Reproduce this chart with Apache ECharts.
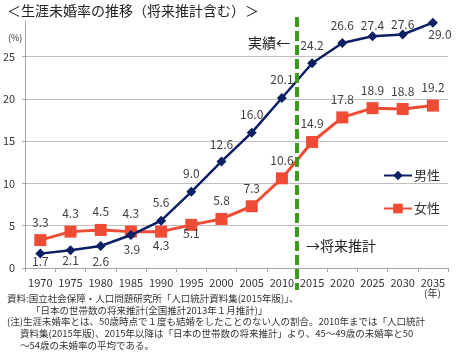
<!DOCTYPE html>
<html><head><meta charset="utf-8">
<script src="https://cdn.jsdelivr.net/npm/echarts@6/dist/echarts.min.js"></script>
<style>html,body{margin:0;padding:0;background:#fff}#c{width:457px;height:362px}</style>
</head><body><div id="c"></div>
<script>
const years = ['1970','1975','1980','1985','1990','1995','2000','2005','2010','2015','2020','2025','2030','2035'];
const male = [1.7, 2.1, 2.6, 3.9, 5.6, 9.0, 12.6, 16.0, 20.1, 24.2, 26.6, 27.4, 27.6, 29.0];
const female = [3.3, 4.3, 4.5, 4.3, 4.3, 5.1, 5.8, 7.3, 10.6, 14.9, 17.8, 18.9, 18.8, 19.2];
const yTicks = [0, 5, 10, 15, 20, 25];
// label offsets (style only)
const maleOff = [[0,8],[0,10],[0,15],[1,14],[0,-18],[0,-18],[0,-17],[0,-18],[0,-19],[0,-18],[0,-18],[0,-11],[0,-10],[7,12]];
const femOff = [[0,-18],[0,-18],[0,-18],[0,-18],[0,14],[0,9],[0,-19],[0,-18],[0,-18],[0,-19],[0,-18],[0,-18],[0,-18],[0,-18]];

const FONT = '"Noto Sans CJK JP", "Noto Sans", sans-serif';
const chart = echarts.init(document.getElementById('c'), null, {renderer:'canvas'});
function mk(vals, offs){
  return vals.map((v,i)=>({value:v, label:{offset:offs[i]}}));
}
const fmt = p => Number(p.value).toFixed(1);
chart.setOption({
  animation:false,
  textStyle:{fontFamily:FONT},
  grid:{left:25, right:9, top:21, bottom:94},
  legend:{
    orient:'vertical', left:378, top:164, itemWidth:28, itemHeight:12, itemGap:20,
    textStyle:{fontFamily:FONT, fontSize:13, color:'#333', padding:[0,0,0,-3]},
    data:['男性','女性']
  },
  xAxis:{
    type:'category', data:years, boundaryGap:true,
    axisLine:{lineStyle:{color:'#a6a6a6', width:1}},
    axisTick:{show:true, length:4, alignWithLabel:false, lineStyle:{color:'#a6a6a6'}},
    axisLabel:{fontFamily:FONT, fontSize:11, color:'#333', margin:9, interval:0}
  },
  yAxis:{
    type:'value', min:0, max:29.2, interval:5,
    axisLine:{show:true, lineStyle:{color:'#a6a6a6'}},
    axisTick:{show:true, length:3, lineStyle:{color:'#a6a6a6'}},
    axisLabel:{fontFamily:FONT, fontSize:11, color:'#333', margin:10, showMaxLabel:false},
    splitLine:{show:true, showMinLine:false, showMaxLine:false, lineStyle:{color:'#bfbfbf', width:1}}
  },
  series:[
    {name:'男性', type:'line', data:mk(male, maleOff), z:4,
     symbol:'diamond', symbolSize:10,
     lineStyle:{color:'#0a1f64', width:2.5}, itemStyle:{color:'#0a1f64'},
     label:{show:true, position:'inside', color:'#404040', fontSize:12, fontFamily:FONT, formatter:fmt}},
    {name:'女性', type:'line', data:mk(female, femOff), z:3,
     symbol:'rect', symbolSize:12,
     lineStyle:{color:'#ef4b35', width:3}, itemStyle:{color:'#ef4b35'},
     label:{show:true, position:'inside', color:'#404040', fontSize:12, fontFamily:FONT, formatter:fmt}}
  ]
});
const x8 = chart.convertToPixel({xAxisIndex:0}, '2010');
const x9 = chart.convertToPixel({xAxisIndex:0}, '2015');
const xd = (x8 + x9) / 2;
const noteStyle = {fontFamily:FONT, fontSize:9.5, fill:'#333'};
chart.setOption({
  graphic:[
    {type:'line', shape:{x1:xd, y1:17, x2:xd, y2:290}, z:10,
     style:{stroke:'#3a9a1c', lineWidth:4, lineDash:[10,4]}},
    {type:'text', left:7, top:4, style:{text:'＜生涯未婚率の推移（将来推計含む）＞', fontFamily:FONT, fontSize:14, fill:'#222'}},
    {type:'text', left:8, top:33, style:{text:'(%)', fontFamily:FONT, fontSize:9, fill:'#333'}},
    {type:'text', left:248, top:36, style:{text:'実績←', fontFamily:FONT, fontSize:14, fill:'#222'}},
    {type:'text', left:306, top:239, style:{text:'→将来推計', fontFamily:FONT, fontSize:14, fill:'#222'}},
    {type:'text', left:424, top:288, style:{text:'(年)', fontFamily:FONT, fontSize:10, fill:'#333'}},
    {type:'text', left:7, top:294, style:Object.assign({text:'資料:国立社会保障・人口問題研究所「人口統計資料集(2015年版)」、'}, noteStyle)},
    {type:'text', left:31, top:306, style:Object.assign({text:'「日本の世帯数の将来推計(全国推計2013年１月推計)」'}, noteStyle)},
    {type:'text', left:7, top:317, style:Object.assign({text:'(注)生涯未婚率とは、50歳時点で１度も結婚をしたことのない人の割合。2010年までは「人口統計'}, noteStyle)},
    {type:'text', left:20, top:329, style:Object.assign({text:'資料集(2015年版)、2015年以降は「日本の世帯数の将来推計」より、45～49歳の未婚率と50'}, noteStyle)},
    {type:'text', left:20, top:341, style:Object.assign({text:'～54歳の未婚率の平均である。'}, noteStyle)}
  ]
});
</script></body></html>
